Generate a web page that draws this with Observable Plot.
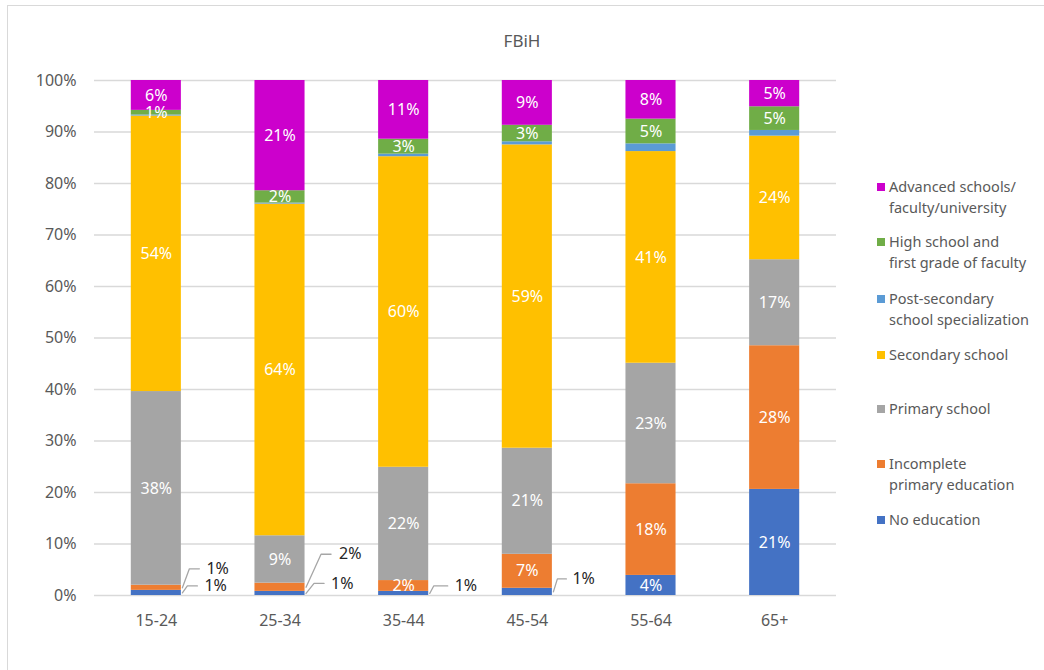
<!DOCTYPE html>
<html>
<head>
<meta charset="utf-8">
<script src="https://cdn.jsdelivr.net/npm/d3@7"></script>
<script src="https://cdn.jsdelivr.net/npm/@observablehq/plot@0.6"></script>
<style>
  body { margin: 0; background: #fff; font-family: "Noto Sans", sans-serif; }
  #wrap { position: relative; width: 1044px; height: 670px; overflow: hidden; background: #fff; }
  #frame { position: absolute; left: 7px; top: 5px; width: 1100px; height: 720px; border: 1.5px solid #d9d9d9; box-sizing: border-box; }
  #chart { position: absolute; left: 0; top: 0; }
  #title { position: absolute; left: 0; top: 29px; width: 1044px; text-align: center; font-size: 17px; color: #595959; }
  .item { position: absolute; left: 877px; font-size: 14.5px; color: #595959; line-height: 21px; white-space: nowrap; }
  .sw { position: absolute; left: 0; top: 7px; width: 8px; height: 8px; }
  .lbl { position: absolute; left: 12px; top: 0; }
</style>
</head>
<body>
<div id="wrap">
  <div id="frame"></div>
  <div id="chart"></div>
  <div id="title"></div>
  <div id="legend"></div>
</div>
<script>
// ---- data ----
const title = "FBiH";
const ages = ["15-24", "25-34", "35-44", "45-54", "55-64", "65+"];
const levels = [
  "No education",
  "Incomplete primary education",
  "Primary school",
  "Secondary school",
  "Post-secondary school specialization",
  "High school and first grade of faculty",
  "Advanced schools/faculty/university"
];
const legendLines = [
  ["No education"],
  ["Incomplete", "primary education"],
  ["Primary school"],
  ["Secondary school"],
  ["Post-secondary", "school specialization"],
  ["High school and", "first grade of faculty"],
  ["Advanced schools/", "faculty/university"]
];
const colors = ["#4472C4", "#ED7D31", "#A5A5A5", "#FFC000", "#5B9BD5", "#70AD47", "#CC00CC"];

const noEducation   = [1.0, 0.8, 0.8, 1.4, 3.9, 20.6];
const incomplete    = [1.0, 1.6, 2.1, 6.6, 17.8, 27.9];
const primary       = [37.6, 9.2, 22.0, 20.6, 23.4, 16.7];
const secondary     = [53.5, 64.4, 60.3, 58.9, 41.1, 24.0];
const postSecondary = [0.2, 0.2, 0.5, 0.6, 1.5, 1.1];
const highSchool    = [0.9, 2.4, 2.9, 3.2, 4.8, 4.6];
const advanced      = [5.8, 21.4, 11.4, 8.7, 7.5, 5.1];
const series = [noEducation, incomplete, primary, secondary, postSecondary, highSchool, advanced];
const yTicks = [0, 10, 20, 30, 40, 50, 60, 70, 80, 90, 100];

// ---- layout (pixels) ----
const W = 1044, H = 670, mL = 94, mR = 208, mT = 80, mB = 75;
const halfBar = 0.2025; // half bar width in category units
const pxX = (W - mL - mR) / ages.length;
const pxY = (H - mT - mB) / 100;
// callout leader layout: [elbow dx, elbow dy, end dx, text dx] relative to bar edge & segment middle
const calloutLayout = {
  "0-0": [6, -7, 16, 23],
  "0-1": [8, -19, 18, 25],
  "1-0": [9, -10, 19, 26],
  "1-1": [16, -33, 26, 34],
  "2-0": [5, -7.5, 19, 26],
  "3-0": [5, -13, 14, 20]
};

// ---- table ----
const rows = [];
ages.forEach((age, i) => {
  let base = 0;
  series.forEach((vals, l) => {
    const v = vals[i];
    const isCallout = l <= 1 && v < 2;
    rows.push({i, age, l, level: levels[l], value: v, base, mid: base + v / 2,
      label: Math.round(v) + "%",
      inside: !isCallout && l !== 4,
      callout: isCallout});
    base += v;
  });
});
const callouts = rows.filter(d => d.callout).map(d => {
  const [ex, ey, endx, tx] = calloutLayout[d.i + "-" + d.l];
  return {...d, id: d.i + "-" + d.l, ex, ey, endx, tx};
});
const leaderPts = callouts.flatMap(c => [
  {id: c.id, x: c.i + halfBar + 1 / pxX, y: c.mid},
  {id: c.id, x: c.i + halfBar + c.ex / pxX, y: c.mid - c.ey / pxY},
  {id: c.id, x: c.i + halfBar + c.endx / pxX, y: c.mid - c.ey / pxY}
]);

const chart = Plot.plot({
  width: W, height: H,
  marginLeft: mL, marginRight: mR, marginTop: mT, marginBottom: mB,
  style: {fontFamily: "'Noto Sans', sans-serif", background: "transparent", overflow: "visible"},
  x: {type: "linear", domain: [-0.5, ages.length - 0.5]},
  y: {domain: [0, 100]},
  color: {domain: levels, range: colors},
  marks: [
    Plot.gridY(yTicks, {stroke: "#d9d9d9", strokeOpacity: 1, strokeWidth: 1.5}),
    Plot.rectY(rows, Plot.stackY({
      x: "i", x1: d => d.i - halfBar, x2: d => d.i + halfBar,
      y: "value", fill: "level"
    })),
    Plot.text(rows, Plot.stackY({
      x: "i", y: "value",
      text: d => d.inside ? d.label : "",
      fill: "white", fontSize: 16
    })),
    Plot.line(leaderPts, {x: "x", y: "y", z: "id", stroke: "#a6a6a6", strokeWidth: 1.3}),
    Plot.text(callouts, {
      x: d => d.i + halfBar + d.tx / pxX, y: d => d.mid - d.ey / pxY,
      text: "label", textAnchor: "start", fill: "#262626", fontSize: 16
    }),
    Plot.axisY({ticks: yTicks, tickFormat: d => d + "%", tickSize: 0, tickPadding: 18,
      fontSize: 16, color: "#595959", label: null}),
    Plot.axisX({ticks: d3.range(ages.length), tickFormat: i => ages[i], tickSize: 0,
      tickPadding: 19, fontSize: 16, color: "#595959", label: null})
  ]
});
document.getElementById("chart").appendChild(chart);
document.getElementById("title").textContent = title;

// ---- legend (top to bottom: reverse of stack order) ----
const legendTops = [176, 231, 288, 344, 398, 453, 509];
const legend = document.getElementById("legend");
const order = d3.range(levels.length).reverse();
order.forEach((l, k) => {
  const div = document.createElement("div");
  div.className = "item";
  div.style.top = legendTops[k] + "px";
  const sw = document.createElement("div");
  sw.className = "sw";
  sw.style.background = colors[l];
  const lab = document.createElement("div");
  lab.className = "lbl";
  lab.innerHTML = legendLines[l].join("<br>");
  div.appendChild(sw);
  div.appendChild(lab);
  legend.appendChild(div);
});
</script>
</body>
</html>
